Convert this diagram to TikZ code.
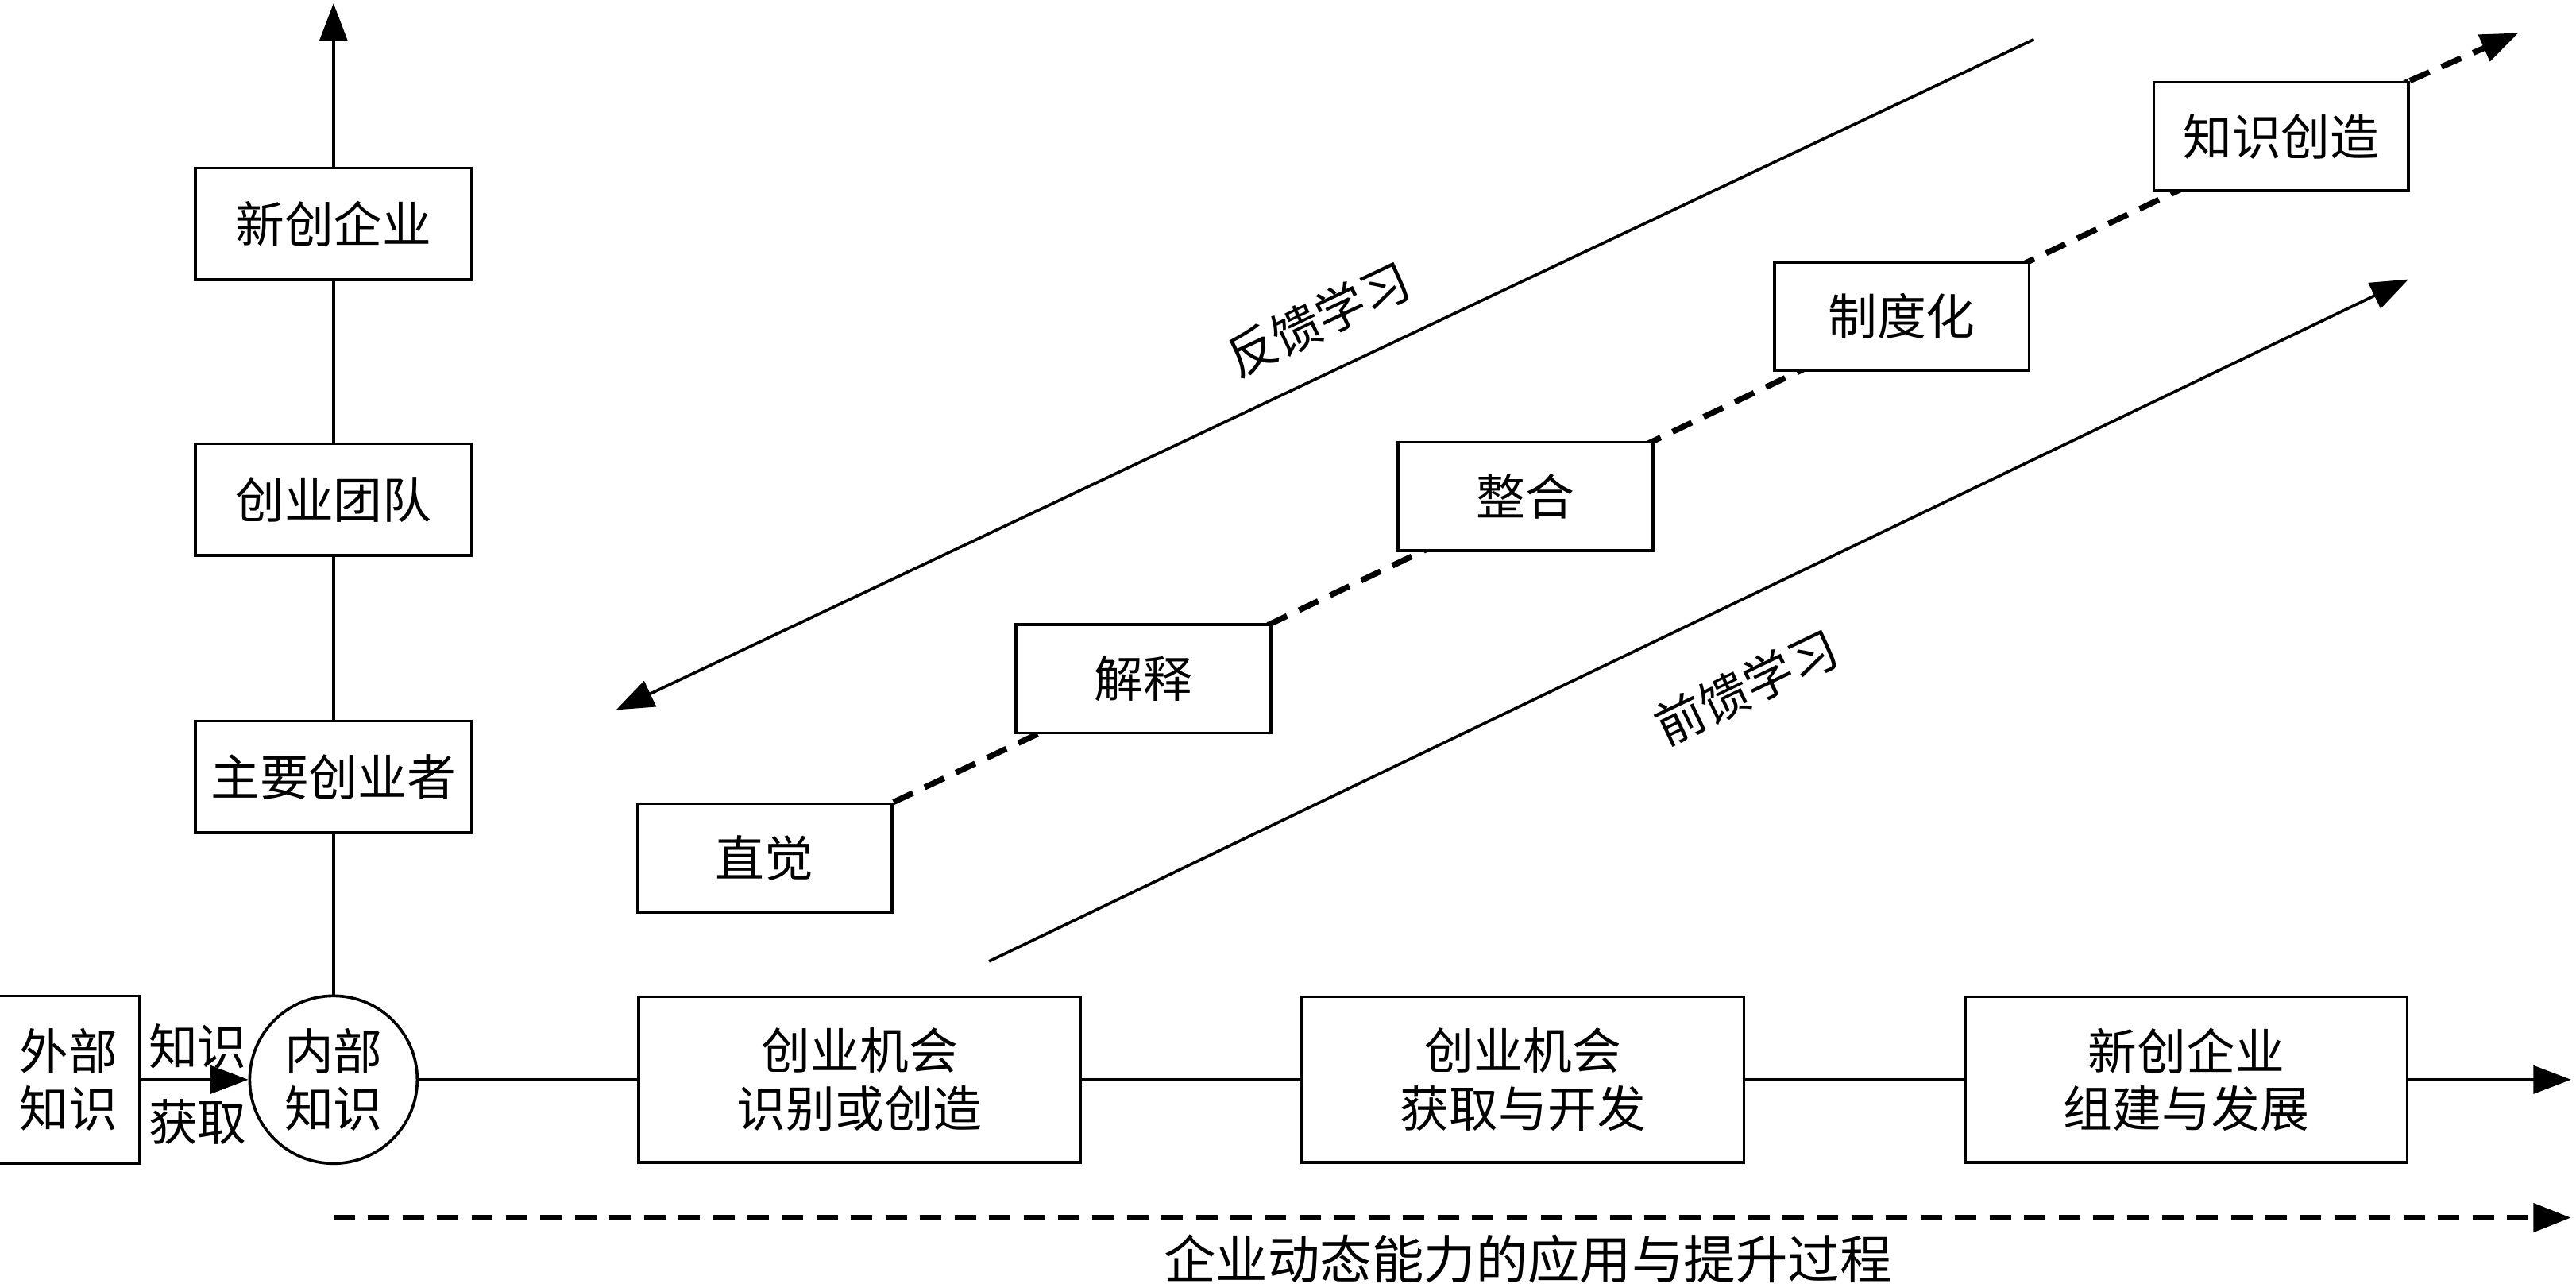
\documentclass[tikz,border=0pt]{standalone}
\usepackage{fontspec}
\setmainfont{Noto Sans CJK SC}
\usetikzlibrary{arrows.meta, backgrounds, positioning}
\tikzset{box/.style={draw, line width=1pt, fill=white, inner sep=0pt, align=center, minimum width=#1, minimum height=2.02cm},box/.default={5.38cm},
    rbox/.style={draw, line width=1pt, fill=white, inner sep=0pt, minimum width=3.36cm, minimum height=1.36cm},
    stepbox/.style={draw, line width=1pt, fill=white, inner sep=0pt, minimum width=3.1cm, minimum height=1.32cm},
    conn/.style={line width=1pt},
    tip/.style={-{Triangle[length=0.46cm, width=0.34cm]}},
    dline/.style={line width=2pt, dash pattern=on 0.26cm off 0.16cm}}

\begin{document}
\begin{tikzpicture}[font=\fontsize{17pt}{20pt}\selectfont]
        \useasboundingbox (0,0) rectangle (31.36,15.62);

        % lower row
        \node [draw, circle, line width=1pt, inner sep=0pt, minimum size=2.04cm, align=center] (nb) at (4.06,2.48) {内部\\知识};
        \node [box=1.74cm, minimum height=2.04cm, left=1.3cm of nb] (wb) {外部\\知识};
        \node [box, right=2.66cm of nb] (j1) {创业机会\\识别或创造};
        \node [box, right=2.66cm of j1] (j2) {创业机会\\获取与开发};
        \node [box, right=2.66cm of j2] (j3) {新创企业\\组建与发展};
        \coordinate (he) at (31.3,2.48);

        % left column
        \node [rbox, above=1.95cm of nb] (zy) {主要创业者};
        \node [rbox, above=1.98cm of zy] (td) {创业团队};
        \node [rbox, above=1.96cm of td] (xq) {新创企业};
        \coordinate (top) at (4.06,15.58);

        \draw [conn, tip] (wb) -- node[above, xshift=1pt] {知识} node[below, yshift=-3pt, xshift=1pt] {获取} (nb);
        \path [conn] (nb) edge (j1) (j1) edge (j2) (j2) edge (j3)
            (nb) edge (zy) (zy) edge (td) (td) edge (xq);
        \draw [conn, tip] (j3) -- (he);
        \draw [conn, tip] (xq) -- (top);

        % bottom dashed arrow
        \coordinate (ds) at (4.06,0.8);
        \coordinate (de) at (31.3,0.8);
        \draw [dline, tip] (ds) -- (de);
        \node [font=\fontsize{18pt}{20pt}\selectfont] (gc) at (18.6,0.3) {企业动态能力的应用与提升过程};

        % learning steps
        \node [stepbox] (s1) at (9.31,5.18) {直觉};
        \node [stepbox] (s2) at (13.92,7.36) {解释};
        \node [stepbox] (s3) at (18.57,9.58) {整合};
        \node [stepbox] (s4) at (23.15,11.77) {制度化};
        \node [stepbox] (s5) at (27.77,13.96) {知识创造};
        \coordinate (st) at (30.66,15.22);

        \begin{scope}[on background layer]
        \draw [dline] (s1.north east) -- (s2.north east) -- (s3.north east)
            -- (s4.north east) -- (s5.north east);
        \end{scope}
        \draw [dline, tip] (s5.north east) -- (st);

        % feedback / feedforward
        \coordinate (fb1) at (24.76,15.14);
        \coordinate (fb2) at (7.5,6.98);
        \draw [conn, tip] (fb1) -- (fb2);
        \node [rotate=25.3] (fk) at (16.05,11.74) {反馈学习};

        \coordinate (ff1) at (12.04,3.92);
        \coordinate (ff2) at (29.32,12.22);
        \draw [conn, tip] (ff1) -- (ff2);
        \node [rotate=25.6] (qk) at (21.26,7.26) {前馈学习};
\end{tikzpicture}
\end{document}
